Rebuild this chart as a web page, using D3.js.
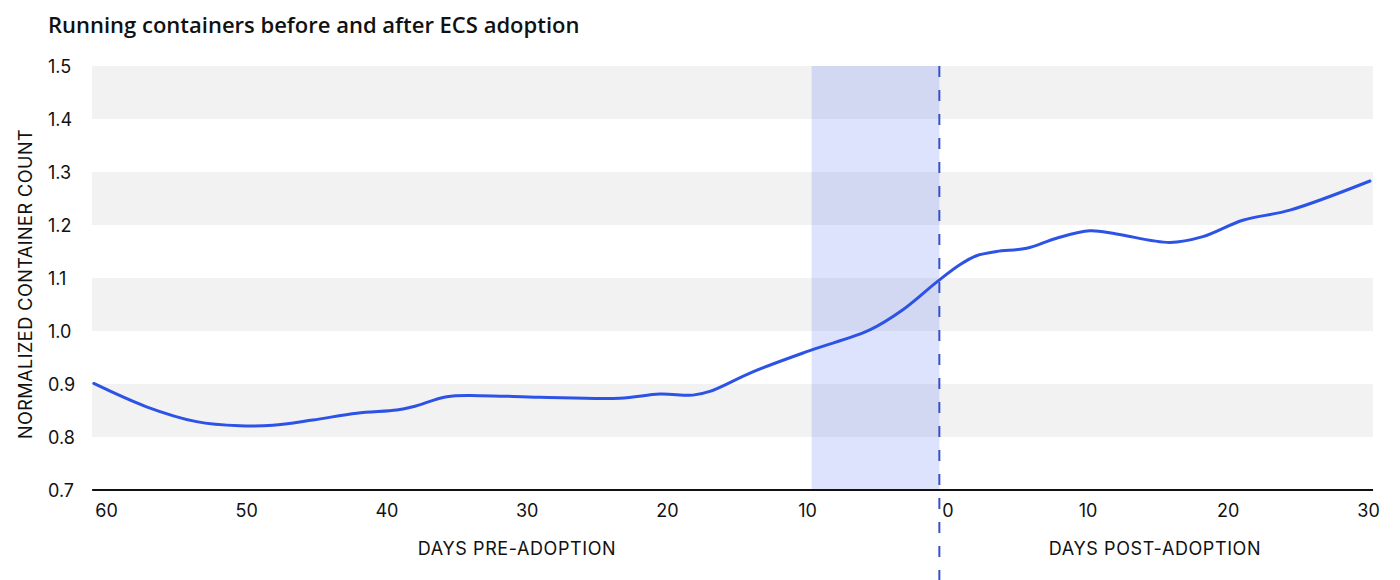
<!DOCTYPE html>
<html>
<head>
<meta charset="utf-8">
<script src="https://cdn.jsdelivr.net/npm/d3@7"></script>
<style>
  html, body { margin: 0; padding: 0; background: #fff; }
  svg { display: block; }
  text { font-family: Inter, "Noto Sans", sans-serif; fill: #111; }
</style>
</head>
<body>
<svg id="chart" width="1400" height="580"></svg>
<script>
// ---- data ----
const days = [-60.87, -57.11, -53.54, -50.46, -48.10, -45.25, -42.11, -39.26, -38.12, -35.69, -33.34,
  -29.06, -23.36, -20.50, -18.15, -16.94, -13.87, -9.81, -5.53, -3.17, -0.68, 0.89, 2.08, 3.51,
  5.65, 7.79, 10.16, 12.07, 15.87, 18.22, 21.07, 24.43, 30.14];
const counts = [0.901, 0.857, 0.829, 0.821, 0.822, 0.832, 0.845, 0.851, 0.857, 0.876, 0.878,
  0.875, 0.873, 0.881, 0.879, 0.886, 0.923, 0.963, 1.002, 1.040, 1.094, 1.125, 1.142, 1.150,
  1.156, 1.175, 1.189, 1.183, 1.167, 1.178, 1.209, 1.228, 1.283];
const xTicks = [-60, -50, -40, -30, -20, -10, 0, 10, 20, 30];
const yTicks = [0.7, 0.8, 0.9, 1.0, 1.1, 1.2, 1.3, 1.4, 1.5];
const stripeRanges = [[0.8, 0.9], [1.0, 1.1], [1.2, 1.3], [1.4, 1.5]];
const adoptionDay = -0.57;
const windowRange = [-9.68, -0.57];
const plotDomainX = [-60.99, 30.36];
const title = "Running containers before and after ECS adoption";
const yTitle = "NORMALIZED CONTAINER COUNT";
const preTitle = "DAYS PRE-ADOPTION";
const postTitle = "DAYS POST-ADOPTION";

// ---- layout ----
const svg = d3.select("#chart");
const x = d3.scaleLinear().domain([-60, 30]).range([106, 1368]);
const y = d3.scaleLinear().domain([0.7, 1.5]).range([490, 66]);
const x0 = x(plotDomainX[0]), x1 = x(plotDomainX[1]);

svg.append("text").attr("x", 48).attr("y", 33)
  .style("font-family", "'Open Sans', sans-serif").style("font-weight", 600)
  .style("font-size", "22px").text(title);

// stripes
svg.append("g").selectAll("rect").data(stripeRanges).join("rect")
  .attr("x", x0).attr("width", x1 - x0)
  .attr("y", d => y(d[1])).attr("height", d => y(d[0]) - y(d[1]))
  .attr("fill", "#f2f2f2");

// highlight window
svg.append("rect")
  .attr("x", x(windowRange[0])).attr("width", x(windowRange[1]) - x(windowRange[0]))
  .attr("y", y(1.5)).attr("height", y(0.7) - y(1.5))
  .attr("fill", "#4a6cf0").attr("fill-opacity", 0.19);

// y axis
const yAxis = svg.append("g").attr("transform", `translate(${x0},0)`)
  .call(d3.axisLeft(y).tickValues(yTicks).tickSize(0).tickFormat(d3.format(".1f")));
yAxis.select(".domain").remove();
yAxis.selectAll("text").attr("x", 48 - x0).attr("text-anchor", "start")
  .attr("dy", "0.36em").style("font-size", "18px").style("font-family", "Inter, sans-serif");

// x axis
const xAxis = svg.append("g").attr("transform", `translate(0,${y(0.7)})`)
  .call(d3.axisBottom(x).tickValues(xTicks).tickSize(0).tickFormat(d => Math.abs(d)));
xAxis.select(".domain").attr("d", `M${x0},0H${x1}`).attr("stroke", "#111").attr("stroke-width", 2);
xAxis.selectAll("text").attr("y", 14).attr("dy", "0.71em")
  .style("font-size", "18px").style("font-family", "Inter, sans-serif");

// dashed adoption line
svg.append("line")
  .attr("x1", x(adoptionDay)).attr("x2", x(adoptionDay))
  .attr("y1", y(1.5)).attr("y2", 580)
  .attr("stroke", "#3552cc").attr("stroke-width", 2).attr("stroke-dasharray", "11,13");

// line
const line = d3.line().x((d, i) => x(days[i])).y(d => y(d)).curve(d3.curveCatmullRom.alpha(0.5));
svg.append("path").datum(counts).attr("d", line)
  .attr("fill", "none").attr("stroke", "#2c52e6").attr("stroke-width", 3)
  .attr("stroke-linecap", "round");

// axis titles
svg.append("text").attr("transform", `translate(32,${(y(0.7) + y(1.5)) / 2 + 6}) rotate(-90)`)
  .attr("text-anchor", "middle").style("font-size", "18px").style("letter-spacing", "0.5px")
  .text(yTitle);
svg.append("text").attr("x", 517).attr("y", 555).attr("text-anchor", "middle")
  .style("font-size", "18px").style("letter-spacing", "0.6px").text(preTitle);
svg.append("text").attr("x", 1155).attr("y", 555).attr("text-anchor", "middle")
  .style("font-size", "18px").style("letter-spacing", "0.6px").text(postTitle);
</script>
</body>
</html>
